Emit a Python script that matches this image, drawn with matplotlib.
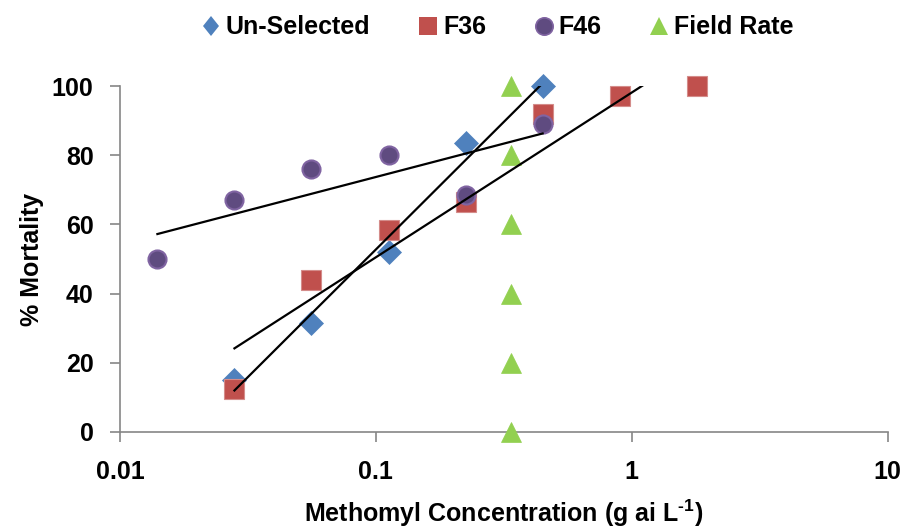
import numpy as np
import matplotlib
matplotlib.use("Agg")
import matplotlib.pyplot as plt
from matplotlib.font_manager import FontProperties
from matplotlib.lines import Line2D

# ---- data ----
unsel_x = [0.028, 0.056, 0.112, 0.224, 0.448]
unsel_y = [15, 31.5, 52, 83.5, 100]
f36_x = [0.028, 0.056, 0.112, 0.224, 0.448, 0.9, 1.8]
f36_y = [12.5, 44, 58.5, 66.5, 92, 97, 100]
f46_x = [0.014, 0.028, 0.056, 0.112, 0.224, 0.448]
f46_y = [50, 67, 76, 80, 68.5, 89]
field_x = [0.336, 0.336, 0.336, 0.336, 0.336, 0.336]
field_y = [0, 20, 40, 60, 80, 100]
yticks = [0, 20, 40, 60, 80, 100]
xticks = [0.01, 0.1, 1, 10]
xticklabels = ["0.01", "0.1", "1", "10"]

plt.rcParams['font.family'] = ['Liberation Sans', 'DejaVu Sans']
plt.rcParams['font.weight'] = 'bold'
plt.rcParams['mathtext.fontset'] = 'custom'
plt.rcParams['mathtext.bf'] = 'Liberation Sans:bold'
plt.rcParams['mathtext.rm'] = 'Liberation Sans'

fig = plt.figure(figsize=(9.05, 5.29), dpi=100)
ax = fig.add_axes([0.1326, 0.1834, 0.981 - 0.1326, 0.8374 - 0.1834])

ax.plot(unsel_x, unsel_y, 'D', color='#4F81BD', markersize=12.5, markeredgecolor='#4F81BD',
        markeredgewidth=0.5, clip_on=False, zorder=3)
ax.plot(f36_x, f36_y, 's', color='#C0504D', markersize=14.2, markeredgecolor='#D48C8A',
        markeredgewidth=0.8, clip_on=False, zorder=3)
ax.plot(f46_x, f46_y, 'o', color='#5F4B80', markersize=13.0, markeredgecolor='#8064A2',
        markeredgewidth=1.5, clip_on=False, zorder=3)
ax.plot(field_x, field_y, '^', color='#92D050', markersize=14.5, markeredgecolor='#92D050',
        markeredgewidth=0.5, clip_on=False, zorder=3)

# logarithmic trendlines
for xs, ys in [(unsel_x, unsel_y), (f36_x, f36_y), (f46_x, f46_y)]:
    lx = np.log(np.array(xs))
    a, b = np.polyfit(lx, np.array(ys), 1)
    xx = np.logspace(np.log10(min(xs)), np.log10(max(xs)), 200)
    ax.plot(xx, a * np.log(xx) + b, color='black', lw=1.6, zorder=4)

ax.set_xscale('log')
ax.set_xlim(0.01, 10)
ax.set_ylim(0, 100)
ax.set_xticks(xticks)
ax.set_xticklabels(xticklabels)
ax.xaxis.set_minor_locator(matplotlib.ticker.NullLocator())
ax.set_yticks(yticks)

for s in ['top', 'right']:
    ax.spines[s].set_visible(False)
for s in ['left', 'bottom']:
    ax.spines[s].set_color('#868686')
    ax.spines[s].set_linewidth(1.2)
ax.tick_params(axis='both', which='major', length=7, width=1.2, color='#868686',
               labelsize=18, labelcolor='black')
ax.tick_params(axis='y', pad=12)
ax.tick_params(axis='x', pad=13)
for lab in ax.get_xticklabels() + ax.get_yticklabels():
    lab.set_fontweight('bold')

ax.set_xlabel('Methomyl Concentration (g ai L$^{\\mathbf{\\text{-}1}}$)', fontsize=18, fontweight='bold', labelpad=10)
ax.set_ylabel('% Mortality', fontsize=18, fontweight='bold', labelpad=6)

# legend handles (Excel-style legend markers)
lh = [
    Line2D([], [], ls='none', marker='D', color='#4F81BD', markersize=10.5, markeredgewidth=0),
    Line2D([], [], ls='none', marker='s', color='#C0504D', markersize=13, markeredgewidth=0),
    Line2D([], [], ls='none', marker='o', color='#5F4B80', markersize=12.5,
           markeredgecolor='#8064A2', markeredgewidth=1.2),
    Line2D([], [], ls='none', marker='^', color='#92D050', markersize=13, markeredgewidth=0),
]
# make the legend diamond slightly narrow, as in the reference
lh[0].set_marker(matplotlib.markers.MarkerStyle('D', transform=matplotlib.transforms.Affine2D().scale(0.8, 1.0)))
fig.legend(handles=lh, labels=['Un-Selected', 'F36', 'F46', 'Field Rate'], loc='center',
           bbox_to_anchor=(496 / 905, 1 - 27.5 / 529), ncol=4,
           frameon=False, prop=FontProperties(family='Liberation Sans', weight='bold', size=18),
           handletextpad=0.1, columnspacing=1.8, handlelength=1.0,
           borderpad=0, borderaxespad=0)

fig.savefig('out.png', dpi=100)
